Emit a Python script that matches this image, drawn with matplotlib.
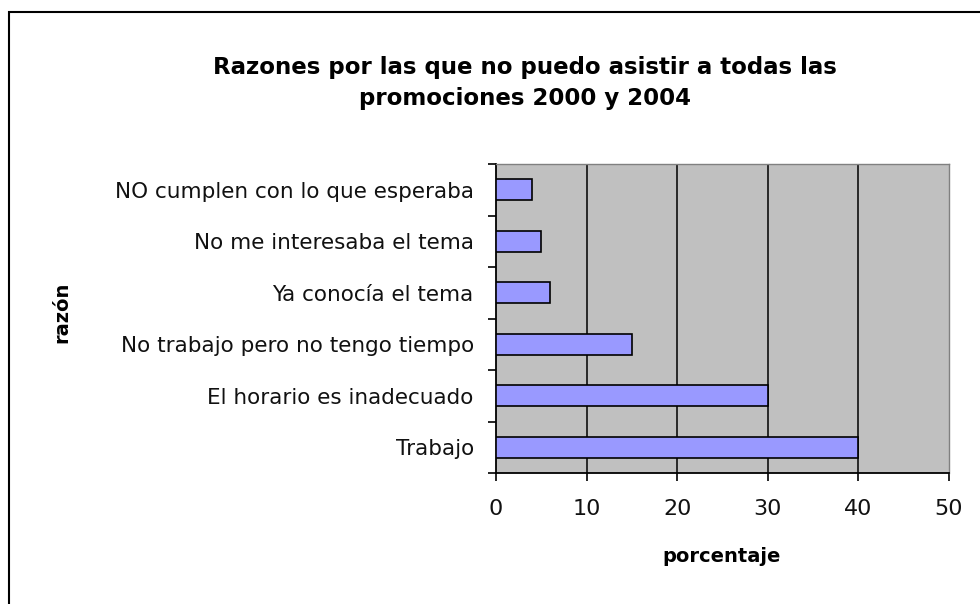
import matplotlib
matplotlib.use("Agg")
import matplotlib.pyplot as plt
from matplotlib.patches import Rectangle
import numpy as np

# data, bottom to top
razones = ["Trabajo", "El horario es inadecuado", "No trabajo pero no tengo tiempo",
           "Ya conocía el tema", "No me interesaba el tema", "NO cumplen con lo que esperaba"]
porcentaje = [40, 30, 15, 6, 5, 4]
xticks = [0, 10, 20, 30, 40, 50]

FONT = ["DejaVu Sans"]

fig = plt.figure(figsize=(9.8, 6.04), dpi=100)
ax = fig.add_axes([496/980, 1-473/604, 453/980, 309/604])
ax.set_facecolor("#C0C0C0")

y = np.arange(len(razones))
ax.barh(y, porcentaje, height=0.4, color="#9999FF", edgecolor="black", linewidth=1.2, zorder=3)

ax.set_xlim(0, 50)
ax.set_ylim(-0.5, len(razones) - 0.5)
ax.set_xticks(xticks)
ax.set_xticklabels([str(t) for t in xticks], family=FONT, fontsize=16, color="#111111")
for t in xticks[1:-1]:
    ax.axvline(t, color="black", lw=1.1, zorder=1)

# category ticks between bars, labels centered on bars
ax.set_yticks(np.arange(-0.5, len(razones)), minor=False)
ax.set_yticklabels([])
ax.set_yticks(y, minor=True)
ax.set_yticklabels(razones, minor=True, family=FONT, fontsize=15.5, color="#111111")
ax.tick_params(axis="y", which="minor", length=0, pad=16)
ax.tick_params(axis="y", which="major", length=6, width=1.2, direction="out")
ax.tick_params(axis="x", length=6, width=1.2, direction="out", pad=13)

for s in ["left", "bottom"]:
    ax.spines[s].set_color("black")
    ax.spines[s].set_linewidth(1.3)
for s in ["top", "right"]:
    ax.spines[s].set_color("#808080")
    ax.spines[s].set_linewidth(1.0)

fig.text(722/980, 1-556/604, "porcentaje", ha="center", va="center",
         family=FONT, fontsize=14, fontweight="bold")
fig.text(62/980, 1-312/604, "razón", rotation=90, ha="center", va="center",
         family=FONT, fontsize=14, fontweight="bold")

fig.text(525/980, 1-83/604, "Razones por las que no puedo asistir a todas las\npromociones 2000 y 2004",
         ha="center", va="center", family=FONT, fontsize=16.5, fontweight="bold", linespacing=1.45)

# chart border
fig.add_artist(Rectangle((8.5/980, -0.05), 1.0, 1-12/604+0.05, transform=fig.transFigure,
                         fill=False, edgecolor="black", linewidth=1.5))

fig.savefig("out.png", dpi=100, facecolor="white")
